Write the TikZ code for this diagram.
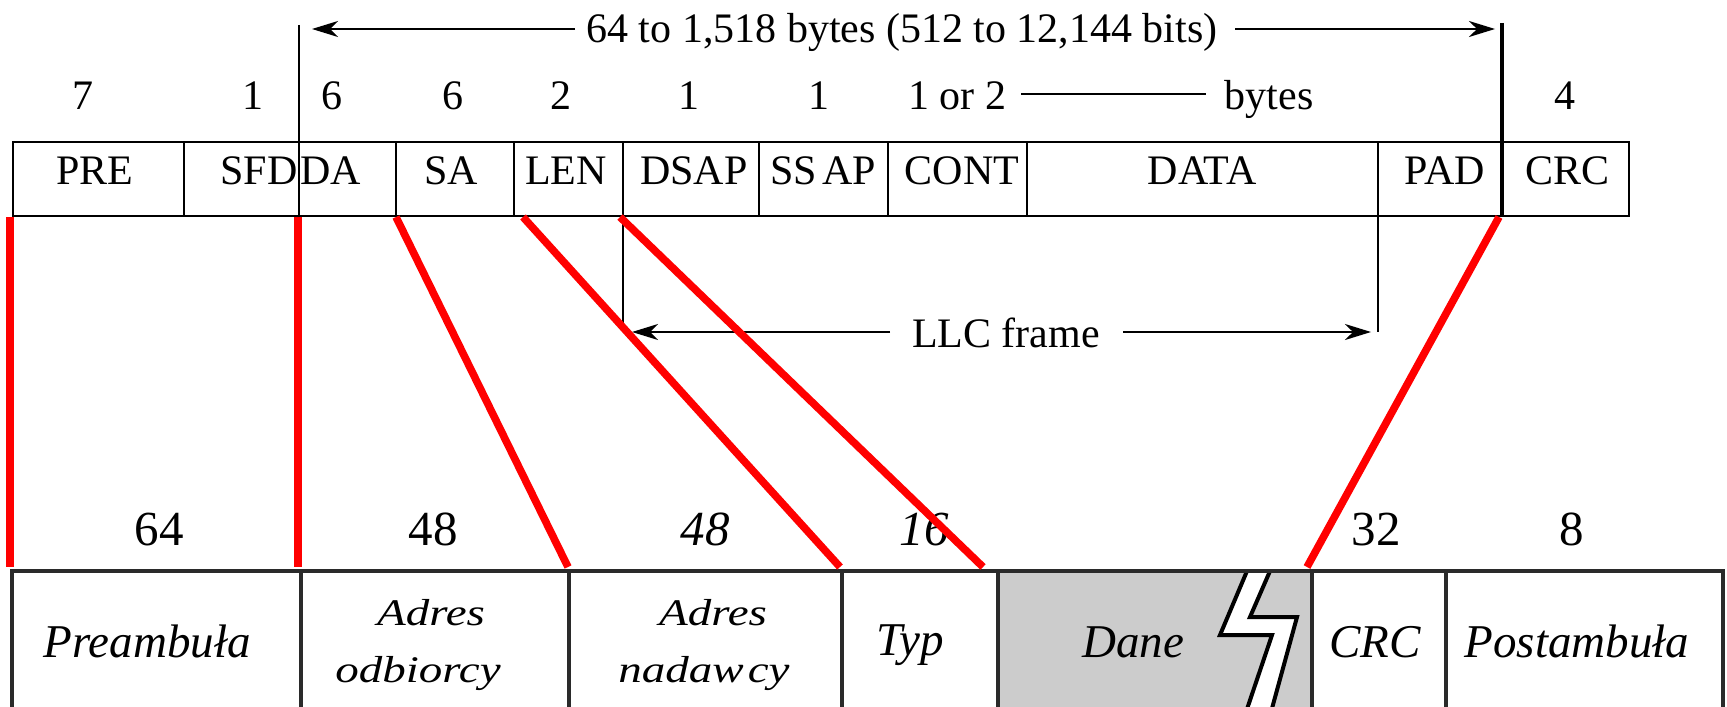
\documentclass[tikz,border=0pt]{standalone}
\usepackage{fontspec}
\setmainfont{Liberation Serif}
\usetikzlibrary{arrows.meta}
\definecolor{dgray}{HTML}{2A2A2A}
\definecolor{lgray}{HTML}{CCCCCC}
\begin{document}
\begin{tikzpicture}[x=0.5pt,y=-0.5pt,
  toptxt/.style={font=\fontsize{21}{25}\selectfont, inner sep=0pt, anchor=base},
  botnum/.style={font=\fontsize{24.5}{29}\selectfont, inner sep=0pt, anchor=base},
  botlab/.style={font=\fontsize{23.5}{28}\selectfont\itshape, inner sep=0pt, anchor=base},
  sqz/.style={botlab},
  topframe/.style={draw=black, line width=1pt},
  botframe/.style={draw=dgray, line width=2pt},
  redline/.style={draw=red, line width=3.8pt},
  arr/.style={line width=1pt, -{Stealth[length=13pt,width=8pt,inset=4pt]}},
  zz/.style={draw=black, line width=2pt, line join=miter}
]
\useasboundingbox (0,0) rectangle (1727,706);
\clip (0,0) rectangle (1727,706);

% ---------- bottom frame ----------
\fill[lgray] (998,571) rectangle (1312,712);
\fill[white] (1247,571) -- (1220,635) -- (1272,635) -- (1246,712) -- (1271,712) -- (1297,617) -- (1250,617) -- (1270,571) -- cycle;
\draw[zz] (1247,571) -- (1220,635) -- (1272,635) -- (1246,712);
\draw[zz] (1270,571) -- (1250,617) -- (1297,617) -- (1271,712);
\draw[botframe] (12,712) -- (12,571) -- (1723,571) -- (1723,712);
\foreach \x in {301,569,842,998,1312,1446} \draw[botframe] (\x,571) -- (\x,712);

\node[botnum] (n64) at (159,545) {64};
\node[botnum] (n48a) at (433,545) {48};
\node[botnum,font=\fontsize{24.5}{29}\selectfont\itshape] (n48b) at (705,545) {48};
\node[botnum,font=\fontsize{24.5}{29}\selectfont\itshape] (n16) at (924,545) {16};
\node[botnum] (n32) at (1376,545) {32};
\node[botnum] (n8) at (1572,545) {8};

\node[botlab] (pre) at (147,657) {Preambuła};
\node[botlab] (ad1) at (431,625) {\scalebox{1}[0.8]{Adres}};
\node[botlab] (od1) at (418,682) {\scalebox{1}[0.8]{odbiorcy}};
\node[botlab] (ad2) at (713,625) {\scalebox{1}[0.8]{Adres}};
\node[botlab] (na2) at (704,682) {\scalebox{1}[0.8]{nadaw\kern2pt cy}};
\node[botlab] (typ) at (910,655) {Typ};
\node[botlab] (dane) at (1133,657) {Dane};
\node[botlab] (crcb) at (1375,657) {CRC};
\node[botlab] (post) at (1577,657) {Postambuła};

% ---------- top frame ----------
\draw[topframe] (13,142) rectangle (1629,216);
\foreach \x in {184,396,514,759,888} \draw[topframe] (\x,142) -- (\x,216);
\draw[topframe] (299,25) -- (299,216);
\draw[topframe] (623,142) -- (623,332);
\draw[topframe] (1378,142) -- (1378,332);
\draw[black, line width=2pt] (1502,23) -- (1502,216);
\draw[topframe] (1027,142) -- (1027,216);

\node[toptxt] (lpre) at (95,184) {PRE};
\node[toptxt,anchor=base east] (lsfd) at (298,184) {SFD};
\node[toptxt,anchor=base west] (lda) at (300,184) {DA};
\node[toptxt] (lsa) at (451,184) {SA};
\node[toptxt] (llen) at (566,184) {LEN};
\node[toptxt] (ldsap) at (694,184) {DSAP};
\node[toptxt] (lssap) at (823,184) {SS\kern2.5pt AP};
\node[toptxt] (lcont) at (962,184) {CONT};
\node[toptxt] (ldata) at (1202,184) {DATA};
\node[toptxt] (lpad) at (1445,184) {PAD};
\node[toptxt] (lcrc) at (1567,184) {CRC};

\node[toptxt] (b7) at (83,110) {7};
\node[toptxt] (b1a) at (253,110) {1};
\node[toptxt] (b6a) at (332,110) {6};
\node[toptxt] (b6b) at (453,110) {6};
\node[toptxt] (b2) at (561,110) {2};
\node[toptxt] (b1b) at (689,110) {1};
\node[toptxt] (b1c) at (819,110) {1};
\node[toptxt] (b12) at (957,110) {1 or 2};
\node[toptxt] (bytes) at (1269,110) {bytes};
\node[toptxt] (b4) at (1565,110) {4};
\coordinate (bl1) at (1021,94);
\coordinate (bl2) at (1206,94);
\draw[topframe] (bl1) -- (bl2);

% total length arrow
\node[toptxt] (total) at (902,43) {64 to 1,518 bytes (512 to 12,144 bits)};
\coordinate (tl) at (575,29);
\coordinate (tlt) at (312,29);
\coordinate (tr) at (1235,29);
\coordinate (trt) at (1495,29);
\draw[arr] (tl) -- (tlt);
\draw[arr] (tr) -- (trt);

% LLC arrow
\node[toptxt] (llc) at (1006,347) {LLC frame};
\coordinate (ll) at (890,332);
\coordinate (llt) at (632,332);
\coordinate (lr) at (1123,332);
\coordinate (lrt) at (1371,332);
\draw[arr] (ll) -- (llt);
\draw[arr] (lr) -- (lrt);

% ---------- red mapping lines ----------
\coordinate (r1a) at (10,217);   \coordinate (r1b) at (10,567);
\coordinate (r2a) at (298,217);  \coordinate (r2b) at (298,567);
\coordinate (r3a) at (396,217);  \coordinate (r3b) at (568,567);
\coordinate (r4a) at (523,217);  \coordinate (r4b) at (840,567);
\coordinate (r5a) at (620,217);  \coordinate (r5b) at (983,567);
\coordinate (r6a) at (1499,217); \coordinate (r6b) at (1307,567);
\foreach \i in {1,...,6} \draw[redline] (r\i a) -- (r\i b);
\end{tikzpicture}
\end{document}
